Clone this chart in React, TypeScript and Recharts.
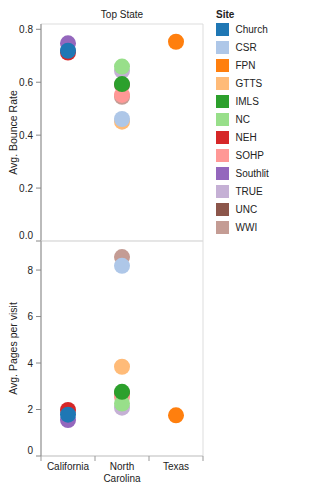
import React from 'react';
import { ScatterChart, Scatter, XAxis, YAxis, ReferenceArea, Label } from 'recharts';

const FONT = '"Liberation Sans", Arial, Helvetica, sans-serif';

const states = ['California', 'North Carolina', 'Texas'];
const sites = ['Church', 'CSR', 'FPN', 'GTTS', 'IMLS', 'NC', 'NEH', 'SOHP', 'Southlit', 'TRUE', 'UNC', 'WWI'];
const siteColors = ['#1f77b4', '#aec7e8', '#ff7f0e', '#ffbb78', '#2ca02c', '#98df8a', '#d62728', '#ff9896', '#9467bd', '#c5b0d5', '#8c564b', '#c49c94'];
const siteState = ['California', 'North Carolina', 'Texas', 'North Carolina', 'North Carolina', 'North Carolina', 'California', 'North Carolina', 'California', 'North Carolina', 'North Carolina', 'North Carolina'];
const bounceRate = [0.719, 0.461, 0.753, 0.451, 0.593, 0.659, 0.712, 0.552, 0.747, 0.643, 0.59, 0.545];
const pagesPerVisit = [1.78, 8.18, 1.75, 3.84, 2.76, 2.26, 1.98, 2.54, 1.55, 2.08, 2.7, 8.56];
const drawOrder = ['Southlit', 'NEH', 'Church', 'FPN', 'WWI', 'UNC', 'SOHP', 'GTTS', 'CSR', 'TRUE', 'NC', 'IMLS'];

const bounceTicks = [0, 0.2, 0.4, 0.6, 0.8];
const pagesTicks = [0, 2, 4, 6, 8];
const xTicks = [0, 0.5, 1, 1.5, 2, 2.5, 3];

const seriesFor = (values: number[]) =>
  drawOrder.map((name) => {
    const i = sites.indexOf(name);
    return {
      name,
      color: siteColors[i],
      data: [{ x: states.indexOf(siteState[i]) + 0.5, y: values[i] }],
    };
  });

const makeYTick = (fmt: (v: number) => string) => (props: any) => {
  const { x, y, payload } = props;
  const dy = payload.value === 0 ? -6 : 0;
  return (
    <text x={x} y={y + dy} textAnchor="end" dominantBaseline="central" fontSize={10} fill="#222" fontFamily={FONT}>
      {fmt(payload.value)}
    </text>
  );
};

const XTick = (props: any) => {
  const { x, y, payload } = props;
  const v = payload.value;
  if (Number.isInteger(v)) {
    return <line x1={x} x2={x} y1={y} y2={y + 5} stroke="#999" strokeWidth={1} />;
  }
  const label = states[Math.floor(v)];
  const words = label.length > 10 ? label.split(' ') : [label];
  return (
    <text x={x} y={y + 14} textAnchor="middle" fontSize={10} fill="#222" fontFamily={FONT}>
      {words.map((w, k) => (
        <tspan key={k} x={x} dy={k === 0 ? 0 : 12}>
          {w}
        </tspan>
      ))}
    </text>
  );
};

const yTitle = (text: string) => (props: any) => {
  const vb = props.viewBox || {};
  const cy = (vb.y || 0) + (vb.height || 0) / 2;
  return (
    <text x={13} y={cy} transform={`rotate(-90, 13, ${cy})`} textAnchor="middle" dominantBaseline="central" fontSize={10.5} fill="#222" fontFamily={FONT}>
      {text}
    </text>
  );
};

const dot = (color: string) => (props: any) => <circle cx={props.cx} cy={props.cy} r={8} fill={color} />;

export default function App() {
  const topSeries = seriesFor(bounceRate);
  const bottomSeries = seriesFor(pagesPerVisit);
  return (
    <div style={{ position: 'absolute', left: 0, top: 0, width: 332, height: 495, background: '#fff', fontFamily: FONT }}>
      <div style={{ position: 'absolute', left: 0, top: 0 }}>
        <ScatterChart width={210} height={242} margin={{ top: 24, right: 7, bottom: 1, left: 0 }}>
          <XAxis type="number" dataKey="x" domain={[0, 3]} hide allowDataOverflow />
          <YAxis
            type="number"
            dataKey="y"
            domain={[0, 0.82]}
            allowDataOverflow
            ticks={bounceTicks}
            interval={0}
            width={41}
            tickSize={5}
            tickMargin={3}
            stroke="#888"
            tick={makeYTick((v) => v.toFixed(1))}
          >
            <Label content={yTitle('Avg. Bounce Rate')} />
          </YAxis>
          <ReferenceArea y1={0} y2={0.82} fill="none" stroke="#ddd" ifOverflow="visible" />
          {topSeries.map((s) => (
            <Scatter key={s.name} name={s.name} data={s.data} fill={s.color} shape={dot(s.color)} isAnimationActive={false} />
          ))}
        </ScatterChart>
      </div>
      <div style={{ position: 'absolute', left: 0, top: 235 }}>
        <ScatterChart width={210} height={251} margin={{ top: 6, right: 7, bottom: 0, left: 0 }}>
          <XAxis
            type="number"
            dataKey="x"
            domain={[0, 3]}
            allowDataOverflow
            ticks={xTicks}
            interval={0}
            height={30}
            tickLine={false}
            tickSize={0}
            tickMargin={0}
            axisLine={{ stroke: '#ccc' }}
            tick={XTick}
          />
          <YAxis
            type="number"
            dataKey="y"
            domain={[0, 9.25]}
            allowDataOverflow
            ticks={pagesTicks}
            interval={0}
            width={41}
            tickSize={5}
            tickMargin={3}
            stroke="#888"
            tick={makeYTick((v) => String(v))}
          >
            <Label content={yTitle('Avg. Pages per visit')} />
          </YAxis>
          <ReferenceArea y1={0} y2={9.25} fill="none" stroke="#ddd" ifOverflow="visible" />
          {bottomSeries.map((s) => (
            <Scatter key={s.name} name={s.name} data={s.data} fill={s.color} shape={dot(s.color)} isAnimationActive={false} />
          ))}
        </ScatterChart>
      </div>
      <svg width={332} height={495} style={{ position: 'absolute', left: 0, top: 0, pointerEvents: 'none' }}>
        <text x={122} y={18} textAnchor="middle" fontSize={10} fill="#222" fontFamily={FONT}>
          Top State
        </text>
        <text x={216} y={17.5} fontSize={10} fontWeight="bold" fill="#222" fontFamily={FONT}>
          Site
        </text>
        {sites.map((name, i) => (
          <g key={name}>
            <rect x={216} y={23 + i * 18} width={13} height={13} fill={siteColors[i]} />
            <text x={235.5} y={33 + i * 18} fontSize={10} fill="#222" fontFamily={FONT}>
              {name}
            </text>
          </g>
        ))}
      </svg>
    </div>
  );
}
